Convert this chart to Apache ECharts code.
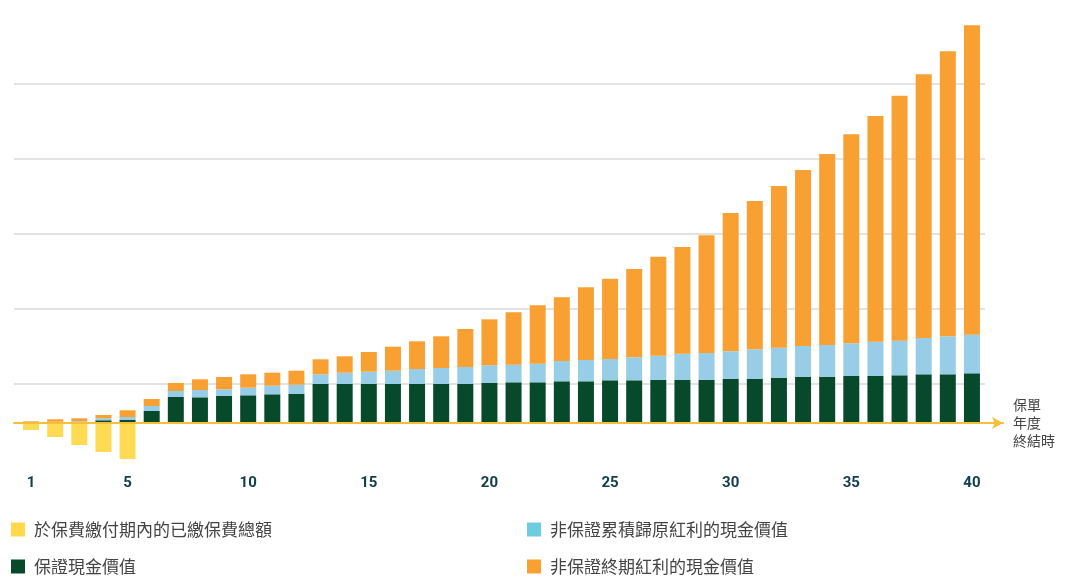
<!DOCTYPE html>
<html>
<head>
<meta charset="utf-8">
<script src="https://cdn.jsdelivr.net/npm/echarts@6/dist/echarts.min.js"></script>
<style>
  html, body { margin: 0; padding: 0; background: #fff; }
  #chart { width: 1080px; height: 586px; }
</style>
</head>
<body>
<div id="chart"></div>
<script>
// values (no y labels; one gridline step = 75 units)
const years = ['1','2','3','4','5','6','7','8','9','10','11','12','13','14','15','16','17','18','19','20',
  '21','22','23','24','25','26','27','28','29','30','31','32','33','34','35','36','37','38','39','40'];
const premiumPaid = [-7, -14, -22, -29, -37];
const guaranteed = [0.5, 0.5, 1, 2.7, 3.3, 12, 26, 25.7, 27, 27.7, 28.7, 29.3, 39, 39, 39, 39, 39, 39, 39, 40,
  40.7, 40.7, 41.7, 41.7, 42.7, 42.7, 43.3, 43.3, 43.3, 44.3, 44.3, 45.3, 46.3, 46.3, 47, 47, 47.7, 48.7, 48.7, 49.7];
const reversionary = [1, 0.7, 0.7, 2, 2.7, 5, 6, 7.3, 6.7, 7.6, 8.6, 9, 9.7, 11.3, 12.3, 13.3, 15, 16, 17, 17.7,
  17.6, 18.6, 20.3, 21.3, 21.3, 23, 24, 26, 26.7, 27.4, 29.4, 30, 30.7, 31.7, 32.7, 34.3, 34.6, 36.3, 38, 38.6];
const terminal = [0.5, 2.5, 3, 3.3, 6.7, 7, 8, 10.7, 12.3, 13.4, 13, 14, 15, 16.4, 19.7, 24, 27.7, 31.7, 38, 46,
  52.4, 58.4, 63.7, 72.7, 80.3, 88.3, 99, 106.7, 117.7, 138.3, 148.3, 161.7, 176, 191, 209, 225.7, 245, 263.7, 285, 309.4];

const names = ['於保費繳付期內的已繳保費總額', '保證現金價值', '非保證累積歸原紅利的現金價值', '非保證終期紅利的現金價值'];
const colors = ['#FEDB52', '#074A2B', '#97CDE7', '#F9A032'];
const legendColors = ['#FFD94A', '#074A2B', '#6ECCE0', '#F9A032'];

const yMin = -36, yMax = 414, yStep = 75;
const cjk = '"Noto Sans CJK TC", "Noto Sans", sans-serif';

const chart = echarts.init(document.getElementById('chart'));

function bar(i, data) {
  return {
    name: names[i],
    type: 'bar',
    stack: 'v',
    barWidth: 16,
    xAxisIndex: 0,
    yAxisIndex: 0,
    itemStyle: { color: colors[i] },
    data: data
  };
}

// one legend per item so the 2x2 layout stays put
function legend(i, left, top) {
  return {
    left: left,
    top: top,
    padding: 0,
    itemWidth: 14,
    itemHeight: 14,
    icon: 'rect',
    selectedMode: false,
    textStyle: { fontFamily: cjk, fontSize: 17, color: '#444', padding: [0, 0, 0, 4] },
    data: [{ name: names[i], itemStyle: { color: legendColors[i] } }]
  };
}

chart.setOption({
  animation: false,
  grid: [
    { left: 19, right: 96, top: 9, bottom: 127 },
    { left: 14, right: 95, top: 9, bottom: 127 },
    { left: 14, right: 77, top: 9, bottom: 127 }
  ],
  xAxis: [
    {
      type: 'category', gridIndex: 0, data: years,
      axisLine: { show: false, onZero: false },
      axisTick: { show: false },
      axisLabel: {
        margin: 17,
        interval: (idx) => idx === 0 || (idx + 1) % 5 === 0,
        fontFamily: 'Roboto, sans-serif', fontWeight: 'bold', fontSize: 15, color: '#12404A'
      }
    },
    { type: 'value', gridIndex: 1, show: false },
    {
      type: 'value', gridIndex: 2, min: 0, max: 1, z: 10,
      axisLine: {
        show: true, onZero: true,
        symbol: ['none', 'arrow'], symbolSize: [9, 11],
        lineStyle: { color: '#F6BE3A', width: 2 }
      },
      axisTick: { show: false }, axisLabel: { show: false }, splitLine: { show: false }
    }
  ],
  yAxis: [
    { type: 'value', gridIndex: 0, min: yMin, max: yMax, interval: yStep, show: false },
    {
      type: 'value', gridIndex: 1, min: yMin, max: yMax, interval: yStep,
      axisLine: { show: false }, axisTick: { show: false }, axisLabel: { show: false },
      splitLine: { show: true, showMinLine: false, showMaxLine: false, lineStyle: { color: '#DADADA', width: 1.5 } }
    },
    { type: 'value', gridIndex: 2, min: yMin, max: yMax, show: false }
  ],
  legend: [
    legend(0, 11, 521),
    legend(1, 11, 558),
    legend(2, 527, 521),
    legend(3, 527, 558)
  ],
  title: {
    text: '保單\n年度\n終結時',
    left: 1013,
    top: 396,
    padding: 0,
    textStyle: { fontFamily: cjk, fontSize: 14, fontWeight: 'normal', color: '#444', lineHeight: 18 }
  },
  series: [
    bar(0, premiumPaid),
    bar(1, guaranteed),
    bar(2, reversionary),
    bar(3, terminal)
  ]
});
</script>
</body>
</html>
